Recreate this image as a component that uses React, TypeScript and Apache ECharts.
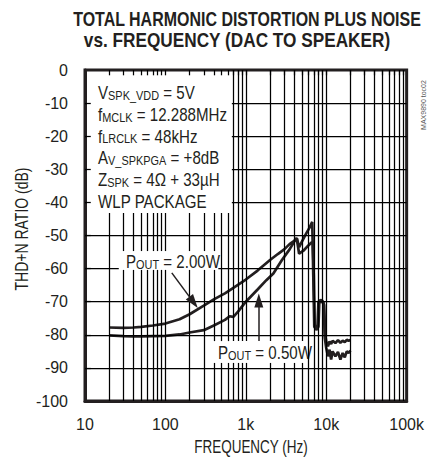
import React, { useEffect, useRef } from "react";
import * as echarts from "echarts";

// ---------- data ----------
const FREQ_2W = [20, 30, 40, 50, 70, 100, 150, 200, 300, 400, 550, 700, 1000, 1400, 2000, 2500, 3000, 3500, 4000, 4300, 4600, 5000, 5600, 6200, 6700, 6900, 7100, 7500, 7800, 8000, 8500, 9000, 9400, 9700, 10000, 10500, 11000, 11500, 12000, 13000, 14000, 15000, 16000, 17000, 18000, 19000, 20000];
const THD_2W = [-77.8, -77.9, -77.8, -77.6, -77.2, -76.6, -75.3, -73.8, -71.2, -69.3, -67.5, -65.8, -63.3, -60.6, -57.4, -55.6, -54.2, -52.6, -51.6, -50.8, -53.5, -51.8, -49.5, -47.6, -45.9, -62, -77.5, -78, -77, -70, -69.5, -69.8, -71, -80, -82, -83.5, -82, -82.8, -81.8, -82.5, -81.6, -82.4, -81.8, -82.2, -81.5, -81.8, -81.6];

const FREQ_05W = [20, 30, 40, 50, 70, 100, 150, 200, 300, 400, 550, 630, 700, 800, 1000, 1400, 1800, 2200, 2800, 3500, 4000, 4300, 4600, 5200, 6000, 6500, 6800, 7000, 7200, 7600, 8000, 8200, 8800, 9300, 9600, 10000, 10500, 11000, 11500, 12000, 13000, 14000, 15000, 16000, 17000, 18000, 19000, 20000];
const THD_05W = [-80.2, -80.4, -80.5, -80.5, -80.4, -80.3, -79.9, -79.3, -78.6, -77.2, -75.5, -74.4, -74.6, -73, -70, -66.3, -63.5, -61.5, -57.5, -54.2, -51.8, -50.9, -55.5, -54.6, -53, -52.2, -52, -62, -77.8, -78.5, -77.5, -70.2, -70, -70.5, -81, -84, -86.5, -84.5, -87.5, -85, -86.5, -85.2, -87.5, -85.5, -86.8, -85, -85.5, -84.8];

const X_MIN = 10;
const X_MAX = 100000;
const X_TICK_LABELS = ["10", "100", "1k", "10k", "100k"];
const MINOR_FREQS = [20, 30, 40, 50, 60, 70, 80, 90, 200, 300, 400, 500, 600, 700, 800, 900, 2000, 3000, 4000, 5000, 6000, 7000, 8000, 9000, 20000, 30000, 40000, 50000, 60000, 70000, 80000, 90000];
const MAJOR_FREQS = [100, 1000, 10000];
const Y_MIN = -100;
const Y_MAX = 0;
const Y_STEP = 10;
const Y_TICKS = [-10, -20, -30, -40, -50, -60, -70, -80, -90];

const TITLE_1 = "TOTAL HARMONIC DISTORTION PLUS NOISE";
const TITLE_2 = "vs. FREQUENCY (DAC TO SPEAKER)";
const X_NAME = "FREQUENCY (Hz)";
const Y_NAME = "THD+N RATIO (dB)";
const CONDITIONS = [
  "{m|V}{s|SPK_VDD}{m| = 5V}",
  "{m|f}{s|MCLK}{m| = 12.288MHz}",
  "{m|f}{s|LRCLK}{m| = 48kHz}",
  "{m|A}{s|V_SPKPGA}{m| = +8dB}",
  "{m|Z}{s|SPK}{m| = 4Ω + 33µH}",
  "{m|WLP PACKAGE}",
];
const LABEL_2W = "{m|P}{s|OUT}{m| = 2.00W}";
const LABEL_05W = "{m|P}{s|OUT}{m| = 0.50W}";
// arrows, in data space: [fromFreq, fromDb, toFreq, toDb]
const ARROW_2W = [120, -61.3, 224, -70.2];
const ARROW_05W = [1450, -81.9, 1450, -69.6];
// white areas where the grid is interrupted (text boxes), data space: [fMin, fMax, dbMin, dbMax]
const GRID_GAPS = [
  [10.5, 670, -43.2, 0],
  [26.3, 455, -60.4, -54.7],
  [345, 5794, -88.5, -81.9],
];

const INK = "#231f20";
const FONT = "'Liberation Sans', Arial, Helvetica, sans-serif";

function fitScale(text: string, font: string, target: number) {
  const ctx = document.createElement("canvas").getContext("2d");
  if (!ctx) return 1;
  ctx.font = font;
  const w = ctx.measureText(text).width;
  return w > 0 ? target / w : 1;
}

function subtract(segs: number[][], a: number, b: number) {
  const out: number[][] = [];
  for (const [s, e] of segs) {
    if (b <= s || a >= e) out.push([s, e]);
    else {
      if (a > s) out.push([s, a]);
      if (b < e) out.push([b, e]);
    }
  }
  return out;
}

const rich = (big: number, small: number) => ({
  m: { fontSize: big, fontFamily: FONT, fill: INK, color: INK, verticalAlign: "bottom", lineHeight: big + 2 },
  s: { fontSize: small, fontFamily: FONT, fill: INK, color: INK, verticalAlign: "bottom", lineHeight: small + 1 },
});

export default function App() {
  const ref = useRef<HTMLDivElement>(null);
  useEffect(() => {
    if (!ref.current) return;
    const chart = echarts.init(ref.current, undefined, { renderer: "svg" });

    const titleFont = `bold 21px ${FONT}`;
    const s1 = fitScale(TITLE_1, titleFont, 348);
    const s2 = fitScale(TITLE_2, titleFont, 307);
    const nameFont = `18px ${FONT}`;
    const sx = fitScale(X_NAME, nameFont, 114);
    const sy = fitScale(Y_NAME, nameFont, 123);

    const mk = (x: number[], y: number[]) => x.map((f, i) => [f, y[i]]);

    // grid lines (interrupted by the white text boxes)
    const gridLines: any[] = [];
    [...MINOR_FREQS, ...MAJOR_FREQS].forEach((f) => {
      let segs = [[Y_MIN, Y_MAX]];
      GRID_GAPS.forEach(([f0, f1, d0, d1]) => {
        if (f >= f0 && f <= f1) segs = subtract(segs, d0, d1);
      });
      segs.forEach(([a, b]) => gridLines.push([{ coord: [f, a] }, { coord: [f, b] }]));
    });
    Y_TICKS.forEach((v) => {
      let segs = [[X_MIN, X_MAX]];
      GRID_GAPS.forEach(([f0, f1, d0, d1]) => {
        if (v >= d0 && v <= d1) segs = subtract(segs, f0, f1);
      });
      segs.forEach(([a, b]) => gridLines.push([{ coord: [a, v] }, { coord: [b, v] }]));
    });
    // inward ticks on top and left edges
    [...MINOR_FREQS, ...MAJOR_FREQS].forEach((f) => {
      gridLines.push([{ coord: [f, Y_MAX] }, { coord: [f, Y_MAX - 1.6] }]);
    });
    Y_TICKS.forEach((v) => {
      gridLines.push([{ coord: [X_MIN, v] }, { coord: [11.8, v] }]);
    });

    const arrow = (a: number[]) => [
      { coord: [a[0], a[1]], symbol: "none" },
      { coord: [a[2], a[3]], symbol: "triangle", symbolSize: [9, 14] },
    ];

    const textStyle = (t: string) => ({
      text: t, rich: rich(18, 13), align: "left", verticalAlign: "bottom", textAlign: "left", textVerticalAlign: "bottom",
    });

    const option: any = {
      animation: false,
      grid: { left: 85, top: 70, right: 9, bottom: 60, show: true, borderColor: INK, borderWidth: 3, backgroundColor: "transparent" },
      xAxis: {
        type: "log",
        logBase: 10,
        min: X_MIN,
        max: X_MAX,
        axisLine: { show: true, onZero: false, lineStyle: { color: INK, width: 3 } },
        axisTick: { show: false },
        axisLabel: {
          color: INK,
          fontFamily: FONT,
          fontSize: 16,
          margin: 15,
          showMinLabel: true,
          showMaxLabel: true,
          formatter: (v: number) => X_TICK_LABELS[Math.round(Math.log10(v)) - 1] ?? "",
        },
        splitLine: { show: false },
      },
      yAxis: {
        type: "value",
        min: Y_MIN,
        max: Y_MAX,
        interval: Y_STEP,
        axisLine: { show: true, lineStyle: { color: INK, width: 3 } },
        axisTick: { show: false },
        axisLabel: { color: INK, fontFamily: FONT, fontSize: 16, margin: 17 },
        splitLine: { show: false },
      },
      series: [
        {
          type: "line",
          name: "grid",
          data: [],
          z: 1,
          silent: true,
          markLine: {
            silent: true,
            symbol: ["none", "none"],
            label: { show: false },
            emphasis: { disabled: true },
            lineStyle: { color: "#000", width: 1.25, type: "solid", opacity: 1 },
            data: gridLines,
          },
        },
        {
          type: "line",
          name: "2.00W",
          data: mk(FREQ_2W, THD_2W),
          showSymbol: false,
          symbol: "none",
          lineStyle: { color: INK, width: 2.7 },
          z: 3,
          silent: true,
        },
        {
          type: "line",
          name: "0.50W",
          data: mk(FREQ_05W, THD_05W),
          showSymbol: false,
          symbol: "none",
          lineStyle: { color: INK, width: 2.7 },
          z: 3,
          silent: true,
        },
        {
          type: "line",
          name: "arrows",
          data: [],
          z: 4,
          silent: true,
          markLine: {
            silent: true,
            symbol: ["none", "triangle"],
            label: { show: false },
            emphasis: { disabled: true },
            lineStyle: { color: INK, width: 1.5, type: "solid", opacity: 1 },
            itemStyle: { color: INK },
            data: [arrow(ARROW_2W), arrow(ARROW_05W)],
          },
        },
      ],
      graphic: [
        ...CONDITIONS.map((t, i) => ({
          type: "text", silent: true, x: 98, y: 102 + i * 21.8, scaleX: 0.84,
          style: textStyle(t),
        })),
        { type: "text", silent: true, x: 126, y: 271, scaleX: 0.84, style: textStyle(LABEL_2W) },
        { type: "text", silent: true, x: 218, y: 362, scaleX: 0.84, style: textStyle(LABEL_05W) },
        {
          type: "text", silent: true, x: 247, y: 18.5, scaleX: s1,
          style: { text: TITLE_1, font: titleFont, fill: INK, align: "center", verticalAlign: "middle", textAlign: "center", textVerticalAlign: "middle" },
        },
        {
          type: "text", silent: true, x: 237, y: 39.5, scaleX: s2,
          style: { text: TITLE_2, font: titleFont, fill: INK, align: "center", verticalAlign: "middle", textAlign: "center", textVerticalAlign: "middle" },
        },
        {
          type: "text", silent: true, x: 251, y: 447, scaleX: sx,
          style: { text: X_NAME, font: nameFont, fill: INK, align: "center", verticalAlign: "middle", textAlign: "center", textVerticalAlign: "middle" },
        },
        {
          type: "text", silent: true, x: 21, y: 229, rotation: Math.PI / 2, scaleX: sy,
          style: { text: Y_NAME, font: nameFont, fill: INK, align: "center", verticalAlign: "middle", textAlign: "center", textVerticalAlign: "middle" },
        },
        {
          type: "text", silent: true, x: 423, y: 105, rotation: Math.PI / 2,
          style: { text: "MAX9890 toc02", font: `7px ${FONT}`, fill: "#555", align: "center", verticalAlign: "middle", textAlign: "center", textVerticalAlign: "middle" },
        },
      ],
    };
    chart.setOption(option);
    return () => chart.dispose();
  }, []);
  return <div ref={ref} style={{ position: "absolute", left: 0, top: 0, width: 427, height: 461 }} />;
}
